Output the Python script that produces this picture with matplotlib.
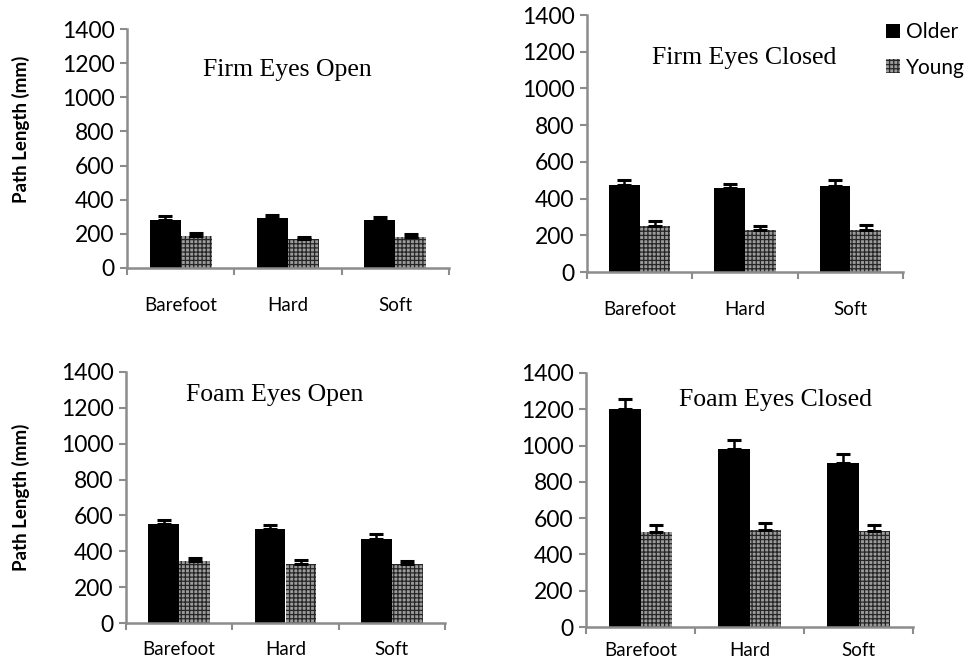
import matplotlib
matplotlib.use("Agg")
import matplotlib.pyplot as plt
import numpy as np
from matplotlib.patches import Patch

categories = ["Barefoot", "Hard", "Soft"]
titles = ["Firm Eyes Open", "Firm Eyes Closed", "Foam Eyes Open", "Foam Eyes Closed"]

older_firm_open = [283, 292, 279]
older_firm_open_err = [19, 16, 19]
young_firm_open = [189, 170, 181]
young_firm_open_err = [16, 11, 16]

older_firm_closed = [473, 458, 467]
older_firm_closed_err = [27, 24, 33]
young_firm_closed = [251, 227, 227]
young_firm_closed_err = [27, 22, 31]

older_foam_open = [554, 524, 470]
older_foam_open_err = [18, 21, 28]
young_foam_open = [344, 331, 329]
young_foam_open_err = [17, 20, 19]

older_foam_closed = [1203, 981, 906]
older_foam_closed_err = [52, 52, 48]
young_foam_closed = [522, 537, 527]
young_foam_closed_err = [42, 38, 37]

series = [
    (older_firm_open, older_firm_open_err, young_firm_open, young_firm_open_err),
    (older_firm_closed, older_firm_closed_err, young_firm_closed, young_firm_closed_err),
    (older_foam_open, older_foam_open_err, young_foam_open, young_foam_open_err),
    (older_foam_closed, older_foam_closed_err, young_foam_closed, young_foam_closed_err),
]

plt.rcParams['hatch.linewidth'] = 0.9
plt.rcParams['hatch.color'] = '#262626'

fig = plt.figure(figsize=(9.73, 6.65), dpi=100)
positions = [
    [127/973, 1-268/665, 322/973, 239/665],
    [587/973, 1-272/665, 316/973, 257/665],
    [126/973, 1-623/665, 319/973, 251/665],
    [586/973, 1-627/665, 327/973, 254/665],
]
title_pos = [(0.497, 0.83), (0.497, 0.833), (0.465, 0.908), (0.578, 0.894)]
xpads = [21, 21, 13, 11]
ylabel_coords = {0: (-0.30, 0.58), 2: (-0.30, 0.50)}
tick_font = "Lato"
axis_gray = "#8c8c8c"
young_face = "#9c9c9c"
bw = 0.29

for k, (pos, ttl, (o, oe, y, ye)) in enumerate(zip(positions, titles, series)):
    ax = fig.add_axes(pos)
    x = np.arange(len(categories))
    ax.bar(x - bw/2, o, width=bw, color="black", edgecolor="black", linewidth=0,
           yerr=[np.zeros(len(o)), oe], capsize=5,
           error_kw=dict(ecolor="black", elinewidth=1.8, capthick=2.2))
    ax.bar(x + bw/2, y, width=bw, color=young_face, edgecolor="#262626", linewidth=0,
           hatch="++++",
           yerr=[np.zeros(len(y)), ye], capsize=5,
           error_kw=dict(ecolor="black", elinewidth=1.8, capthick=2.2))
    ax.set_xlim(-0.5, 2.5)
    ax.set_ylim(0, 1400)
    ax.set_yticks(np.arange(0, 1401, 200))
    ax.set_xticks(x)
    ax.set_xticklabels(categories, fontfamily=tick_font, fontsize=13.5)
    ax.set_xticks([-0.5, 0.5, 1.5, 2.5], minor=True)
    ax.tick_params(axis="x", which="major", length=0, pad=xpads[k])
    ax.tick_params(axis="x", which="minor", length=5, width=1.5, color=axis_gray, direction="out")
    ax.tick_params(axis="y", length=5, width=1.5, color=axis_gray, direction="out", pad=4)
    for lab in ax.get_yticklabels():
        lab.set_fontfamily(tick_font)
        lab.set_fontsize(16.5)
    for s in ["top", "right"]:
        ax.spines[s].set_visible(False)
    for s in ["left", "bottom"]:
        ax.spines[s].set_color(axis_gray)
        ax.spines[s].set_linewidth(1.8)
    ax.text(title_pos[k][0], title_pos[k][1], ttl, transform=ax.transAxes,
            ha="center", va="center", fontfamily="Liberation Serif", fontsize=18.5)
    if k in ylabel_coords:
        ax.set_ylabel("Path Length (mm)", fontfamily=tick_font, fontweight="bold",
                      fontsize=13.5)
        ax.yaxis.set_label_coords(*ylabel_coords[k])

handles = [Patch(facecolor="black", edgecolor="black", linewidth=0),
           Patch(facecolor=young_face, edgecolor="#262626", hatch="++++", linewidth=0)]
fig.legend(handles, ["Older", "Young"], loc="upper left", bbox_to_anchor=(886/973, 1-22/665),
           frameon=False, prop=dict(family=tick_font, size=15), handlelength=0.65,
           handleheight=0.65, handletextpad=0.3, labelspacing=0.75, borderaxespad=0, borderpad=0)

fig.savefig("out.png", dpi=100, facecolor="white")
